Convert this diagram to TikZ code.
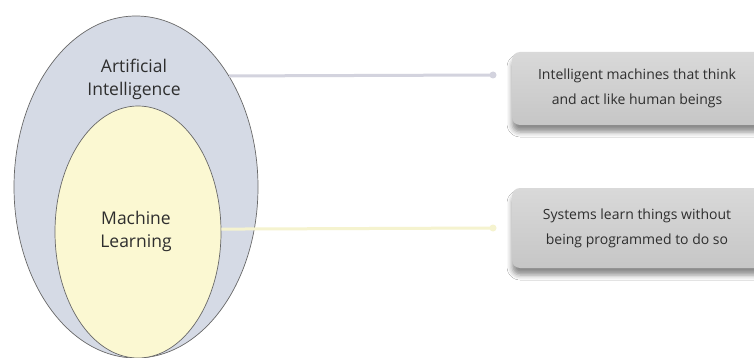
\documentclass[tikz,border=0pt]{standalone}
\usepackage{fontspec}
\setmainfont{Open Sans}
\usetikzlibrary{shapes.geometric,shadows.blur}
\definecolor{aifill}{HTML}{D5DAE5}
\definecolor{mlfill}{HTML}{FBF8D2}
\definecolor{rim}{HTML}{686868}
\definecolor{ailink}{HTML}{D3D3DE}
\definecolor{mllink}{HTML}{F5F3CF}
\definecolor{boxtop}{HTML}{D9D9D9}
\definecolor{boxbot}{HTML}{C6C6C6}
\definecolor{ink}{HTML}{2E2E2E}
\tikzset{
  set/.style={ellipse, draw=rim, line width=0.7pt, inner sep=0pt},
  setlabel/.style={align=center, text=ink, font=\fontsize{17.5}{23}\selectfont},
  infobox/.style={rounded corners=8pt, minimum width=250pt, inner sep=0pt,
    top color=boxtop, bottom color=boxbot, draw=none, align=center, text=ink,
    font=\fontsize{14}{25}\selectfont,
    blur shadow={shadow xshift=0pt, shadow yshift=-7pt, shadow blur radius=5pt, shadow opacity=45}},
  link/.style={line width=3pt},
  linkdot/.style={circle, inner sep=0pt, minimum size=7pt}
}
\begin{document}
\begin{tikzpicture}[x=1pt, y=-1pt]
  \useasboundingbox (0,0) rectangle (754,358);
  \clip (0,0) rectangle (754,358);
  \fill[white] (0,0) rectangle (754,358);

  % nested sets
  \node[set, fill=aifill, minimum width=244pt, minimum height=342pt] (ai) at (136,187) {};
  \node[set, fill=mlfill, minimum width=166pt, minimum height=252pt] (ml) at (138,232) {};
  \node[setlabel] (ailabel) at (134,79) {Artificial\\Intelligence};
  \node[setlabel] (mllabel) at (136,231) {Machine\\Learning};

  % description boxes
  \node[infobox, minimum height=73pt] (aibox) at (637,88.5) {Intelligent machines that think\\and act like human beings};
  \node[infobox, minimum height=80pt] (mlbox) at (637,228) {Systems learn things without\\being programmed to do so};

  % connectors with end dots
  \node[linkdot, fill=ailink] (aidot) at (493,75) {};
  \node[linkdot, fill=mllink] (mldot) at (493,228) {};
  \draw[link, ailink] (ai.50.4) -- (aidot.center);
  \draw[link, mllink] (ml.2.8) -- (mldot.center);
\end{tikzpicture}
\end{document}
